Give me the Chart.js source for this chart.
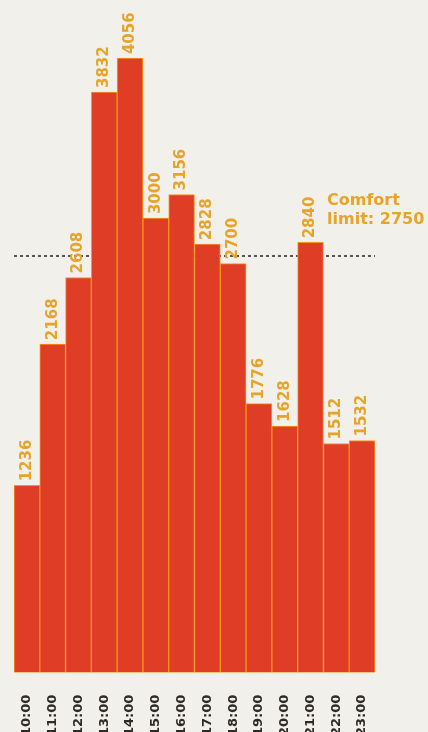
<!DOCTYPE html>
<html>
<head>
<meta charset="utf-8">
<script src="https://cdn.jsdelivr.net/npm/chart.js@4"></script>
<style>
  html, body { margin: 0; padding: 0; background: #f2f0eb; overflow: hidden; }
  #wrap { width: 428px; height: 750px; position: relative; }
</style>
</head>
<body>
<div id="wrap"><canvas id="loadChart"></canvas></div>
<script>
const hours = ['10:00', '11:00', '12:00', '13:00', '14:00', '15:00', '16:00',
               '17:00', '18:00', '19:00', '20:00', '21:00', '22:00', '23:00'];
const visitors = [1236, 2168, 2608, 3832, 4056, 3000, 3156,
                  2828, 2700, 1776, 1628, 2840, 1512, 1532];
const comfortLimit = 2750;
const comfortText = ['Comfort', 'limit: 2750'];

const labelColor = '#e6a42a';

// dotted limit line, drawn before the bars so they cover it
const limitLine = {
    id: 'limitLine',
    beforeDatasetsDraw(chart) {
        const { ctx, chartArea, scales } = chart;
        const y = scales.y.getPixelForValue(comfortLimit);
        ctx.save();
        ctx.strokeStyle = '#555';
        ctx.lineWidth = 2;
        ctx.setLineDash([3, 3]);
        ctx.beginPath();
        ctx.moveTo(chartArea.left, y);
        ctx.lineTo(chartArea.right, y);
        ctx.stroke();
        ctx.restore();
    },
    afterDatasetsDraw(chart) {
        const { ctx, chartArea, scales } = chart;
        const y = scales.y.getPixelForValue(comfortLimit);
        ctx.save();
        ctx.fillStyle = labelColor;
        ctx.font = 'bold 16px "DejaVu Sans"';
        ctx.textAlign = 'left';
        ctx.textBaseline = 'alphabetic';
        const x = chartArea.right - 48;
        ctx.fillText(comfortText[0], x, y - 51);
        ctx.fillText(comfortText[1], x, y - 32);
        ctx.restore();
    }
};

// vertical value labels above each bar
const barValues = {
    id: 'barValues',
    afterDatasetsDraw(chart) {
        const { ctx } = chart;
        const meta = chart.getDatasetMeta(0);
        ctx.save();
        ctx.fillStyle = labelColor;
        ctx.font = 'bold 15px "DejaVu Sans"';
        ctx.textAlign = 'left';
        ctx.textBaseline = 'middle';
        meta.data.forEach((bar, i) => {
            ctx.save();
            ctx.translate(bar.x, bar.y - 4);
            ctx.rotate(-Math.PI / 2);
            ctx.fillText(String(visitors[i]), 0, 0);
            ctx.restore();
        });
        ctx.restore();
    }
};

const ctx = document.getElementById('loadChart').getContext('2d');
const loadChart = new Chart(ctx, {
    type: 'bar',
    data: {
        labels: hours,
        datasets: [{
            data: visitors,
            backgroundColor: '#e03d27',
            borderColor: '#f6961c',
            borderWidth: 1,
            borderSkipped: false,
            barPercentage: 1,
            categoryPercentage: 1
        }]
    },
    options: {
        responsive: true,
        maintainAspectRatio: false,
        animation: false,
        layout: {
            padding: { left: 14, right: 53, top: 6, bottom: 0 }
        },
        scales: {
            x: {
                grid: { display: false },
                border: { display: false },
                ticks: {
                    color: '#2e2a28',
                    font: { family: 'DejaVu Sans', weight: 'bold', size: 13 },
                    minRotation: 90,
                    maxRotation: 90,
                    padding: 14,
                    autoSkip: false
                }
            },
            y: {
                display: false,
                min: 0,
                max: 4400
            }
        },
        plugins: {
            legend: { display: false },
            tooltip: { enabled: false }
        }
    },
    plugins: [limitLine, barValues]
});
</script>
</body>
</html>
